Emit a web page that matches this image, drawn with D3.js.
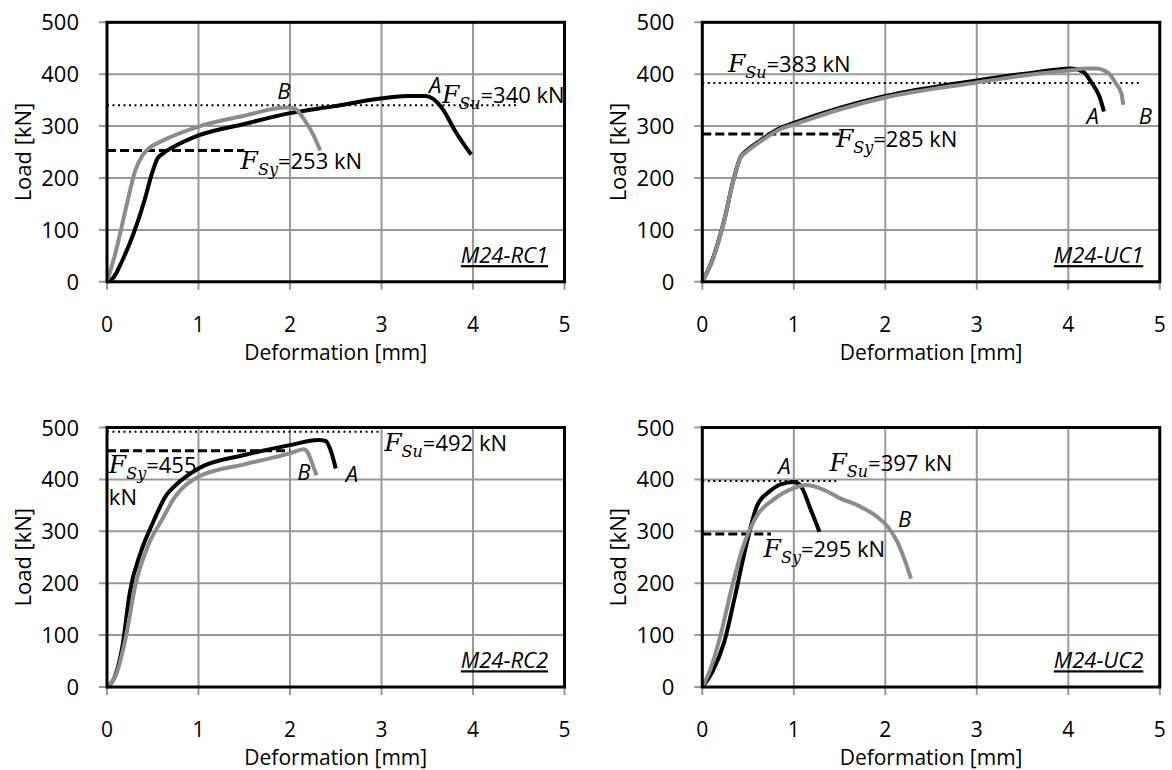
<!DOCTYPE html>
<html>
<head>
<meta charset="utf-8">
<script src="https://cdn.jsdelivr.net/npm/d3@7"></script>
<style>
  body { margin: 0; background: #fff; }
  svg text { font-family: "Open Sans", "Noto Sans", sans-serif; }
  .mono { font-size: 22px; fill: #000; }
  .small { font-size: 21px; }
  .math { font-family: "DejaVu Serif", "Liberation Serif", serif; font-style: italic; }
</style>
</head>
<body>
<div id="chart"></div>
<script>
// deformation [mm] / load [kN]
let rc1A = [[0,0],[0.07,8],[0.17,42],[0.29,93],[0.41,157],[0.49,208],[0.55,237],[0.61,247],[0.73,260],[1.0,282],[1.5,304],[2.0,325],[2.47,338],[2.99,353],[3.28,358],[3.48,358],[3.56,353],[3.68,330],[3.8,292],[3.98,245]];
let rc1B = [[0,0],[0.09,54],[0.21,144],[0.31,215],[0.39,244],[0.45,256],[0.61,272],[1.0,299],[1.5,320],[1.95,336],[2.05,334],[2.15,314],[2.25,285],[2.33,253]];
let uc1A = [[0,0],[0.11,42],[0.24,119],[0.34,196],[0.42,241],[0.48,252],[0.64,273],[0.85,296],[1.0,306],[1.5,335],[2.0,358],[3.0,388],[3.62,403],[4.03,411],[4.16,405],[4.26,382],[4.34,357],[4.39,328]];
let uc1B = [[0,0],[0.11,41],[0.24,118],[0.34,195],[0.42,240],[0.48,250],[0.64,271],[0.85,294],[1.0,303],[1.5,332],[2.0,355],[3.0,384],[3.62,400],[4.0,407],[4.2,411],[4.3,411],[4.44,402],[4.52,382],[4.58,363],[4.6,341]];
let rc2A = [[0,0],[0.09,22],[0.17,80],[0.25,183],[0.37,260],[0.49,312],[0.65,370],[0.77,392],[1.0,421],[1.5,447],[2.0,466],[2.31,476],[2.39,474],[2.45,453],[2.5,421]];
let rc2B = [[0,0],[0.11,29],[0.21,100],[0.31,196],[0.45,273],[0.61,325],[0.73,363],[1.0,405],[1.5,429],[2.0,450],[2.15,458],[2.19,453],[2.25,427],[2.29,408]];
let uc2A = [[0,0],[0.11,29],[0.24,87],[0.36,177],[0.48,273],[0.6,350],[0.73,376],[0.85,390],[1.0,395],[1.07,389],[1.18,344],[1.28,299]];
let uc2B = [[0,0],[0.09,35],[0.2,100],[0.32,190],[0.44,267],[0.6,331],[0.77,360],[1.0,383],[1.13,389],[1.34,379],[1.5,364],[1.71,349],[1.91,328],[2.03,308],[2.13,280],[2.22,241],[2.28,209]];

let names = ["M24-RC1", "M24-UC1", "M24-RC2", "M24-UC2"];
let fsy = [253, 285, 455, 295];      // yield load, dashed
let fsyEnd = [1.5, 1.5, 2.0, 0.75];
let fsu = [340, 383, 492, 397];      // ultimate load, dotted
let fsuEnd = [4.5, 4.77, 3.0, 1.5];
let xTicks = [0, 1, 2, 3, 4, 5];
let yTicks = [0, 100, 200, 300, 400, 500];

let curvesA = [rc1A, uc1A, rc2A, uc2A];
let curvesB = [rc1B, uc1B, rc2B, uc2B];

let W = 1172, H = 770,
    pw = 457.5, ph = 259.5,
    origins = [[107, 22.3], [702.3, 22.3], [107, 427.5], [702.3, 427.5]];

let svg = d3.select("#chart").append("svg")
    .attr("width", W)
    .attr("height", H);

origins.forEach(function (o, i) {
    let g = svg.append("g").attr("transform", "translate(" + o[0] + "," + o[1] + ")");
    let x = d3.scaleLinear().domain([0, 5]).range([0, pw]);
    let y = d3.scaleLinear().domain([0, 500]).range([ph, 0]);

    // grid
    g.selectAll(".gx").data(xTicks).enter().append("line")
        .attr("x1", d => x(d)).attr("x2", d => x(d))
        .attr("y1", 0).attr("y2", ph + 8)
        .attr("stroke", "#999").attr("stroke-width", 2);
    g.selectAll(".gy").data(yTicks).enter().append("line")
        .attr("y1", d => y(d)).attr("y2", d => y(d))
        .attr("x1", -8).attr("x2", pw)
        .attr("stroke", "#999").attr("stroke-width", 2);

    // tick labels
    g.selectAll(".xl").data(xTicks).enter().append("text")
        .attr("class", "mono small")
        .attr("x", d => x(d)).attr("y", ph + 50)
        .attr("text-anchor", "middle")
        .text(d => d);
    g.selectAll(".yl").data(yTicks).enter().append("text")
        .attr("class", "mono")
        .attr("x", -28).attr("y", d => y(d) + 8)
        .attr("text-anchor", "end")
        .text(d => d);

    g.append("text").attr("class", "mono small")
        .attr("x", pw / 2).attr("y", ph + 78)
        .attr("text-anchor", "middle")
        .text("Deformation [mm]");
    g.append("text").attr("class", "mono")
        .attr("transform", "translate(-76," + (ph / 2) + ") rotate(-90)")
        .attr("text-anchor", "middle")
        .text("Load [kN]");

    // reference levels
    g.append("line")
        .attr("x1", x(0)).attr("x2", x(fsuEnd[i]))
        .attr("y1", y(fsu[i])).attr("y2", y(fsu[i]))
        .attr("stroke", "#000").attr("stroke-width", 2)
        .attr("stroke-dasharray", "2,3.5");
    g.append("line")
        .attr("x1", x(0)).attr("x2", x(fsyEnd[i]))
        .attr("y1", y(fsy[i])).attr("y2", y(fsy[i]))
        .attr("stroke", "#000").attr("stroke-width", 3)
        .attr("stroke-dasharray", "9,4");

    let line = d3.line()
        .x(d => x(d[0])).y(d => y(d[1]))
        .curve(d3.curveMonotoneX);

    g.append("path").datum(curvesA[i])
        .attr("d", line).attr("fill", "none")
        .attr("stroke", "#000").attr("stroke-width", 4)
        .attr("stroke-linejoin", "round");
    g.append("path").datum(curvesB[i])
        .attr("d", line).attr("fill", "none")
        .attr("stroke", "#8c8c8c").attr("stroke-width", 4)
        .attr("stroke-linejoin", "round");

    // frame
    g.append("rect")
        .attr("width", pw).attr("height", ph)
        .attr("fill", "none").attr("stroke", "#000").attr("stroke-width", 3);

    g.append("text").attr("class", "mono")
        .attr("x", x(4.82)).attr("y", y(36))
        .attr("text-anchor", "end")
        .style("font-style", "italic")
        .style("text-decoration", "underline")
        .text(names[i]);
});

// annotations, in data units of each panel
let labels = [
    // panel, letter, x, y
    [0, "B", 1.86, 353], [0, "A", 3.52, 363],
    [1, "A", 4.2, 304], [1, "B", 4.77, 304],
    [2, "B", 2.08, 399], [2, "A", 2.61, 395],
    [3, "A", 0.83, 411], [3, "B", 2.14, 309]
];
let forceLabels = [
    // panel, subscript, x, y, text
    [0, "Su", 3.66, 344, "=340 kN"], [0, "Sy", 1.46, 217, "=253 kN"],
    [1, "Su", 0.28, 404, "=383 kN"], [1, "Sy", 1.46, 259, "=285 kN"],
    [2, "Su", 3.03, 455, "=492 kN"], [2, "Sy", 0.02, 413, "=455"],
    [3, "Su", 1.39, 417, "=397 kN"], [3, "Sy", 0.67, 251, "=295 kN"]
];

function px(p, v) { return origins[p][0] + v / 5 * pw; }
function py(p, v) { return origins[p][1] + ph - v / 500 * ph; }

svg.selectAll(".ab").data(labels).enter().append("text")
    .attr("class", "mono")
    .style("font-style", "italic")
    .attr("x", d => px(d[0], d[2])).attr("y", d => py(d[0], d[3]))
    .text(d => d[1]);

forceLabels.forEach(function (d) {
    let t = svg.append("text").attr("class", "mono")
        .attr("x", px(d[0], d[2])).attr("y", py(d[0], d[3]));
    t.append("tspan").attr("class", "math").style("font-size", "25px").text("F");
    t.append("tspan").attr("class", "math").style("font-size", "16px")
        .attr("dy", 6).text(d[1]);
    t.append("tspan").attr("dy", -6).text(d[4]);
});

svg.append("text").attr("class", "mono")
    .attr("x", px(2, 0.02)).attr("y", py(2, 350))
    .text("kN");
</script>
</body>
</html>
